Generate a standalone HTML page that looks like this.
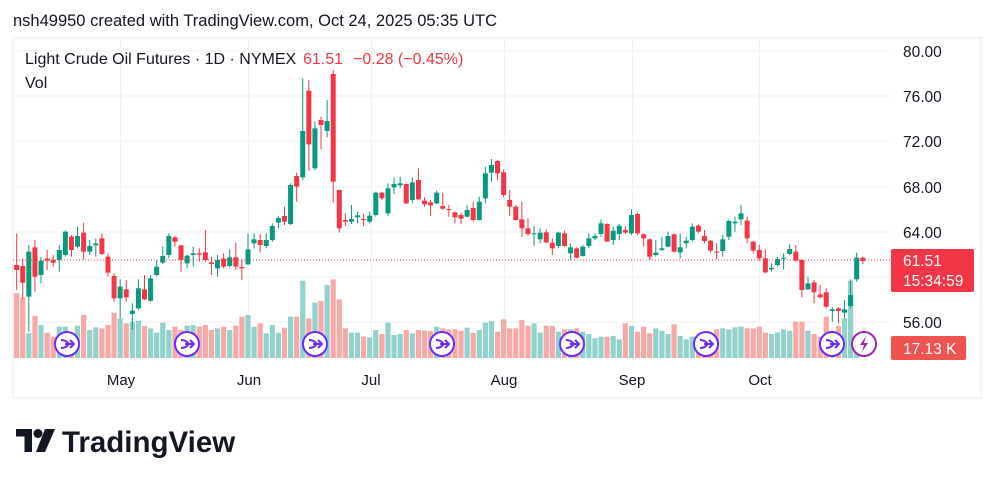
<!DOCTYPE html>
<html><head><meta charset="utf-8"><style>
html,body{margin:0;padding:0;background:#fff;}
body{width:995px;height:482px;position:relative;overflow:hidden;font-family:"Liberation Sans",sans-serif;}
</style></head><body>
<svg id="s" width="995" height="482" viewBox="0 0 995 482" xmlns="http://www.w3.org/2000/svg" style="position:absolute;left:0;top:0">
<rect x="13" y="38" width="968" height="360" fill="#fff" stroke="#e6e8ec" stroke-width="1"/>
<g stroke="#f0f1f3" stroke-width="1">
<line x1="13" x2="890" y1="51" y2="51"/><line x1="13" x2="890" y1="96" y2="96"/><line x1="13" x2="890" y1="141" y2="141"/><line x1="13" x2="890" y1="187" y2="187"/><line x1="13" x2="890" y1="232" y2="232"/><line x1="13" x2="890" y1="277" y2="277"/><line x1="13" x2="890" y1="322" y2="322"/>
<line x1="120.5" x2="120.5" y1="38" y2="360"/><line x1="248.5" x2="248.5" y1="38" y2="360"/><line x1="371.5" x2="371.5" y1="38" y2="360"/><line x1="504.5" x2="504.5" y1="38" y2="360"/><line x1="632.5" x2="632.5" y1="38" y2="360"/><line x1="759.5" x2="759.5" y1="38" y2="360"/>
</g>
<g id="vol"></g>
<g id="cand"></g>
<line x1="13" x2="890" y1="260" y2="260" stroke="#f23645" stroke-width="1" stroke-dasharray="1,2"/>
<g id="icons"></g>
<g font-size="15.5" fill="#131722">
<text x="903" y="57">80.00</text><text x="903" y="102">76.00</text><text x="903" y="147">72.00</text><text x="903" y="193">68.00</text><text x="903" y="238">64.00</text><text x="903" y="328">56.00</text>
</g>
<rect x="891" y="249" width="83" height="43" rx="2" fill="#f23645"/>
<text x="903" y="266" font-size="15.5" fill="#fff">61.51</text>
<text x="903" y="286" font-size="15.5" fill="#fff">15:34:59</text>
<rect x="891" y="336" width="75" height="24" rx="2" fill="#ef5350"/>
<text x="903" y="354" font-size="15.5" fill="#fff">17.13 K</text>
<g font-size="15" fill="#131722" text-anchor="middle">
<text x="121" y="385">May</text><text x="249" y="385">Jun</text><text x="371" y="385">Jul</text><text x="504" y="385">Aug</text><text x="632" y="385">Sep</text><text x="760" y="385">Oct</text>
</g>
<text x="25" y="64" font-size="16" fill="#131722">Light Crude Oil Futures · 1D · NYMEX<tspan fill="#f23645" x="303">61.51</tspan><tspan fill="#f23645" x="353">−0.28 (−0.45%)</tspan></text>
<text x="25" y="88" font-size="16" fill="#131722">Vol</text>
<text x="13" y="26" font-size="16.5" fill="#131722">nsh49950 created with TradingView.com, Oct 24, 2025 05:35 UTC</text>
<g fill="#131722">
<path d="M16 429h16v23h-7.5v-15.5h-8.5z"/><circle cx="38" cy="433.5" r="4.5"/><path d="M45 429h10l-10 23h-9z"/>
<text x="62" y="452" font-size="29.5" font-weight="bold">TradingView</text>
</g>
</svg>
<script>
var C=[[615,630,520,690,0],[618,668,595,715,0],[575,710,555,815,1],[562,650,540,695,0],[602,645,590,670,1],[596,602,570,630,0],[600,608,585,620,0],[570,600,555,635,1],[515,585,512,590,1],[530,570,525,590,0],[528,560,500,565,1],[518,575,488,600,0],[558,575,540,585,1],[550,556,535,590,1],[535,582,520,585,0],[590,638,580,650,0],[648,715,640,725,0],[680,715,658,775,1],[688,712,660,725,0],[752,762,730,810,1],[685,745,658,750,1],[688,718,645,720,0],[655,722,645,725,1],[620,645,600,650,1],[588,608,560,612,1],[528,585,520,595,1],[532,545,528,560,0],[556,600,555,635,0],[587,610,585,625,1],[580,585,560,620,1],[580,584,565,605,0],[577,600,510,605,0],[607,612,590,645,0],[600,625,585,650,1],[596,620,580,625,0],[592,618,568,622,1],[592,620,548,630,0],[621,625,598,660,0],[568,613,520,615,1],[538,550,520,565,1],[540,555,522,578,0],[540,558,520,565,1],[498,540,490,545,1],[474,488,468,505,1],[468,485,440,495,0],[375,492,370,495,1],[348,380,338,425,0],[213,352,55,360,1],[92,253,60,332,0],[205,325,185,330,1],[180,195,170,268,0],[183,213,120,232,1],[42,365,30,428,0],[390,505,388,518,0],[480,485,460,498,0],[477,485,435,492,1],[466,472,455,490,1],[477,480,462,498,0],[467,485,455,490,1],[398,465,395,470,1],[398,415,395,420,0],[385,460,370,468,1],[372,382,352,402,1],[370,376,350,385,1],[372,430,370,432,0],[367,420,352,430,1],[360,418,325,420,0],[422,433,412,440,0],[427,436,420,468,0],[398,430,392,432,1],[438,446,398,450,0],
[447,450,435,470,0],[457,472,455,490,0],[465,476,458,492,0],[450,470,435,472,1],[444,480,425,485,0],[425,480,410,482,1],[340,415,320,430,1],[315,338,297,365,1],[303,340,300,360,0],[337,405,328,412,0],[420,440,390,468,0],[440,480,435,482,0],[478,505,425,530,0],[505,522,475,528,0],[520,522,498,558,1],[518,538,505,550,1],[517,547,508,550,0],[548,565,535,585,0],[518,558,515,565,1],[520,558,512,560,0],[562,580,550,600,1],[565,593,562,595,0],[560,588,555,590,1],[535,558,520,565,1],[528,535,520,540,1],[490,522,478,530,1],[492,545,490,545,0],[512,540,500,555,1],[497,522,492,540,1],[510,518,498,522,0],[465,520,448,525,1],[462,520,458,525,0],[523,535,520,560,0],[538,590,535,600,0],[578,585,540,590,1],[565,570,530,573,1],[528,560,515,562,1],[523,575,520,578,0],[562,577,520,595,1],[542,550,530,565,1],[500,540,490,545,1],[497,515,493,520,0],[528,543,510,550,0],[542,572,540,578,0],[575,578,550,598,0],[538,573,525,590,1],[483,530,478,540,1],[485,490,470,515,1],[460,478,435,495,1],[482,535,470,550,0],[545,572,542,580,0],[570,595,555,603,0],[595,637,568,640,0],[623,628,610,635,1],[597,615,590,620,1],[593,595,580,628,1],[567,582,553,585,1],[575,602,555,605,0],[600,690,598,712,0],[670,688,650,690,1],[667,697,660,730,0],[703,712,675,715,0],[697,740,685,745,0],[748,753,742,785,1],[745,753,742,790,0],[748,758,720,775,1],[705,738,658,745,1],[593,658,578,665,1],[593,603,590,612,0]];
var V=[700,712,820,768,795,818,830,800,800,820,797,765,810,802,805,795,758,775,790,785,782,798,805,818,788,810,800,810,797,795,800,795,810,805,800,810,797,770,765,800,790,820,795,818,803,770,770,662,775,728,723,675,658,718,805,818,818,830,832,810,822,788,825,822,810,820,810,812,813,800,805,808,808,812,803,818,810,788,783,815,778,805,805,780,797,790,818,797,798,815,808,808,805,815,822,835,830,830,828,838,790,798,815,800,820,805,812,822,793,828,838,830,835,840,835,808,805,808,802,800,805,805,800,818,822,817,808,812,785,785,812,822,830,770,820,798,775,662,870];
var ns="http://www.w3.org/2000/svg",cg=document.getElementById('cand'),vg=document.getElementById('vol');
function el(t,a,p){var e=document.createElementNS(ns,t);for(var k in a)e.setAttribute(k,a[k]);p.appendChild(e);return e;}
for(var i=0;i<C.length;i++){var x=16.67+i*6.087,c=C[i],col=c[4]?'#089981':'#f23645';
var vt=60+V[i]/3;el('rect',{x:x-2.6,y:vt,width:5.2,height:358-vt,fill:c[4]?'#92d2cc':'#f7a9a7'},vg);
el('line',{x1:x,x2:x,y1:60+c[2]/3,y2:60+c[3]/3,stroke:col,'stroke-width':1},cg);
var t=60+c[0]/3,b=60+c[1]/3;el('rect',{x:x-2.5,y:t,width:5,height:Math.max(1,b-t),fill:col},cg);}
var ig=document.getElementById('icons');
[67,187,315,442,572,706,832].forEach(function(x){el('circle',{cx:x,cy:344,r:12,fill:'#fff',stroke:'#6b2cf5','stroke-width':2},ig);
el('path',{d:'M'+(x-6)+' 340 q5 0 8 4 q-3 4 -8 4 M'+(x-2)+' 344 h8 M'+(x+3)+' 340 l4 4 l-4 4',fill:'none',stroke:'#6b2cf5','stroke-width':2},ig);});
el('circle',{cx:864,cy:344,r:12,fill:'#fff',stroke:'#9c27b0','stroke-width':2},ig);
el('path',{d:'M866 336 l-6 9 h4 l-2 7 l6 -9 h-4 z',fill:'#9c27b0'},ig);
</script>
</body></html>
